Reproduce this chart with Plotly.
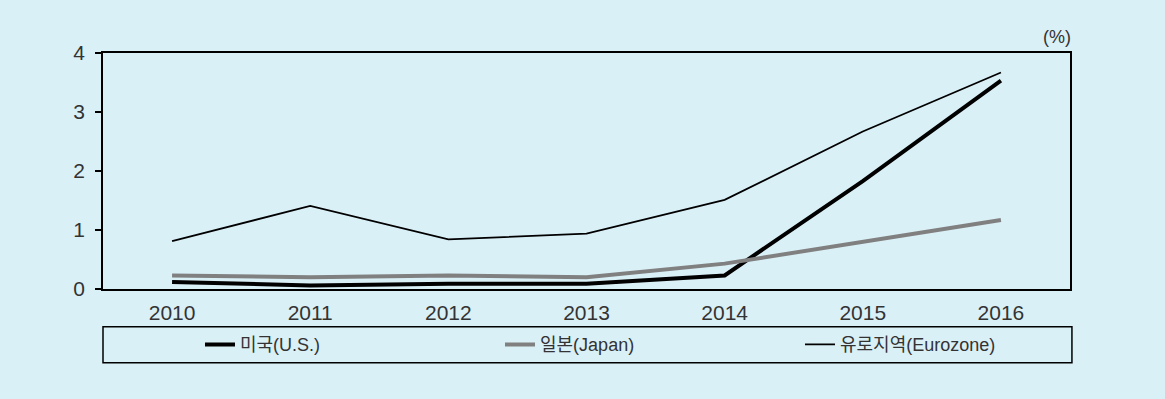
import plotly.graph_objects as go

years = [2010, 2011, 2012, 2013, 2014, 2015, 2016]
us = [0.12, 0.06, 0.09, 0.09, 0.23, 1.83, 3.53]
japan = [0.23, 0.20, 0.23, 0.20, 0.43, 0.80, 1.17]
euro = [0.81, 1.41, 0.84, 0.94, 1.51, 2.67, 3.67]
names = ["미국(U.S.)", "일본(Japan)", "유로지역(Eurozone)"]
yticks = [0, 1, 2, 3, 4]

BG = "#daf0f7"
FONT = "Liberation Sans, Noto Sans CJK KR, sans-serif"

fig = go.Figure()
fig.add_trace(go.Scatter(x=years, y=us, name=names[0], mode="lines",
                         line=dict(color="#000000", width=4)))
fig.add_trace(go.Scatter(x=years, y=japan, name=names[1], mode="lines",
                         line=dict(color="#808080", width=4)))
fig.add_trace(go.Scatter(x=years, y=euro, name=names[2], mode="lines",
                         line=dict(color="#000000", width=1.8)))

fig.update_layout(
    width=1165, height=399,
    margin=dict(l=103, r=95, t=53, b=110, pad=0),
    paper_bgcolor=BG, plot_bgcolor=BG,
    font=dict(family=FONT, size=21, color="#333333"),
    showlegend=True,
    legend=dict(orientation="h", x=0.1003, xanchor="left", y=-0.236, yanchor="middle",
                entrywidth=255, entrywidthmode="pixels",
                bgcolor="rgba(0,0,0,0)", borderwidth=0,
                font=dict(family=FONT, size=18, color="#333333"),
                traceorder="normal"),
    xaxis=dict(range=[2009.5, 2016.5], tickvals=years, ticktext=[str(y) for y in years],
               showline=True, linecolor="#000000", linewidth=1.5, mirror=True,
               ticks="", showgrid=False, zeroline=False, ticklabelstandoff=4),
    yaxis=dict(range=[0, 4], tickvals=yticks, showline=True, linecolor="#000000",
               linewidth=1.5, mirror=True, ticks="outside", ticklen=6, tickwidth=1.5,
               tickcolor="#000000", showgrid=False, zeroline=False, ticklabelstandoff=6),
    shapes=[dict(type="rect", xref="paper", yref="paper", x0=0, x1=1.002,
                 y0=-0.312, y1=-0.16, line=dict(color="#000000", width=1.5))],
    annotations=[dict(text="(%)", xref="paper", yref="paper", x=0.987, y=1.069,
                      xanchor="center", yanchor="middle", showarrow=False,
                      font=dict(family=FONT, size=18, color="#333333"))],
)

fig.write_html("out.html", config={"displayModeBar": False},
               post_script="document.body.style.margin='0';")
